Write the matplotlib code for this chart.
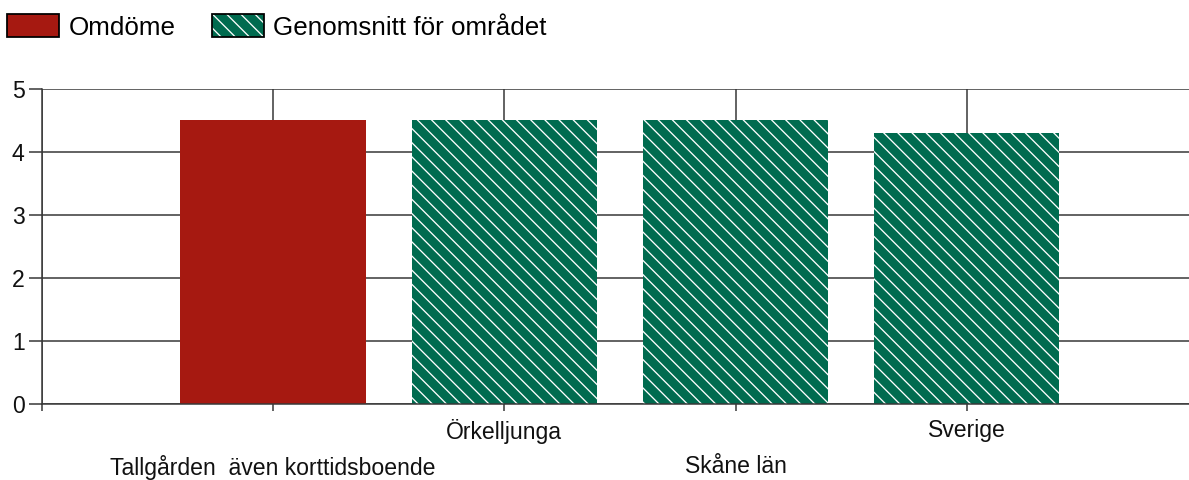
import matplotlib
matplotlib.use("Agg")
import matplotlib.pyplot as plt
from matplotlib.patches import Patch
from matplotlib.legend_handler import HandlerTuple

# data
categories = ["Tallgården  även korttidsboende", "Örkelljunga", "Skåne län", "Sverige"]
scores = [4.5, 4.5, 4.5, 4.3]
is_own = [True, False, False, False]
legend_labels = ["Omdöme", "Genomsnitt för området"]
y_ticks = [0, 1, 2, 3, 4, 5]

RED = "#a61911"
GREEN = "#006b4f"
LINE = "#383838"
HATCH = "\\\\"

DPI = 85
plt.rcParams["font.family"] = ["Liberation Sans", "DejaVu Sans"]
plt.rcParams["hatch.linewidth"] = 1.1
plt.rcParams["hatch.color"] = "white"

fig = plt.figure(figsize=(1189 / DPI, 480 / DPI), dpi=DPI)
ax = fig.add_axes([41.7 / 1189, 76 / 480, 1 - 41.7 / 1189, 315 / 480])

positions = list(range(1, len(categories) + 1))
for pos, val, own in zip(positions, scores, is_own):
    if own:
        ax.bar(pos, val, width=0.8, color=RED, linewidth=0, zorder=2)
    else:
        ax.bar(pos, val, width=0.8, facecolor=GREEN, edgecolor="white",
               hatch=HATCH, linewidth=0, zorder=2)

ax.set_xlim(0, 4.96)
ax.set_ylim(0, 5)
ax.set_yticks(y_ticks)

# labels alternate between two rows
top_pos = [p for p in positions if p % 2 == 0]
low_pos = [p for p in positions if p % 2 == 1]
ax.set_xticks([0] + top_pos)
ax.set_xticklabels([""] + [categories[p - 1] for p in top_pos])
ax.set_xticks(low_pos, minor=True)
ax.set_xticklabels([categories[p - 1] for p in low_pos], minor=True)

ax.tick_params(axis="y", length=11, width=1.3, color=LINE, pad=3.4,
               labelsize=19.5, labelcolor="#111111")
ax.tick_params(axis="x", which="both", length=6, width=1.3, color=LINE,
               labelsize=19.5, labelcolor="#111111")
ax.tick_params(axis="x", which="major", pad=6.5)
ax.tick_params(axis="x", which="minor", pad=37)

ax.grid(axis="y", color=LINE, linewidth=1.3)
ax.grid(axis="x", which="both", color=LINE, linewidth=1.3)
ax.set_axisbelow(True)
ax.spines[["top", "right"]].set_visible(False)
ax.spines[["left", "bottom"]].set_color(LINE)
ax.spines[["left", "bottom"]].set_linewidth(1.3)

h_own = Patch(facecolor=RED, edgecolor="black", linewidth=1.5)
h_area = (Patch(facecolor=GREEN, edgecolor="white", hatch=HATCH, linewidth=0),
          Patch(fill=False, edgecolor="black", linewidth=1.5))
fig.legend([h_own, h_area], legend_labels, loc="upper left",
           bbox_to_anchor=(7 / 1189, 1 - 14 / 480), ncol=2, frameon=False,
           fontsize=22, handlelength=2.0, handleheight=1.0,
           handletextpad=0.38, columnspacing=1.38, borderpad=0,
           borderaxespad=0,
           handler_map={tuple: HandlerTuple(ndivide=1, pad=0)})

fig.savefig("out.png", dpi=DPI)
